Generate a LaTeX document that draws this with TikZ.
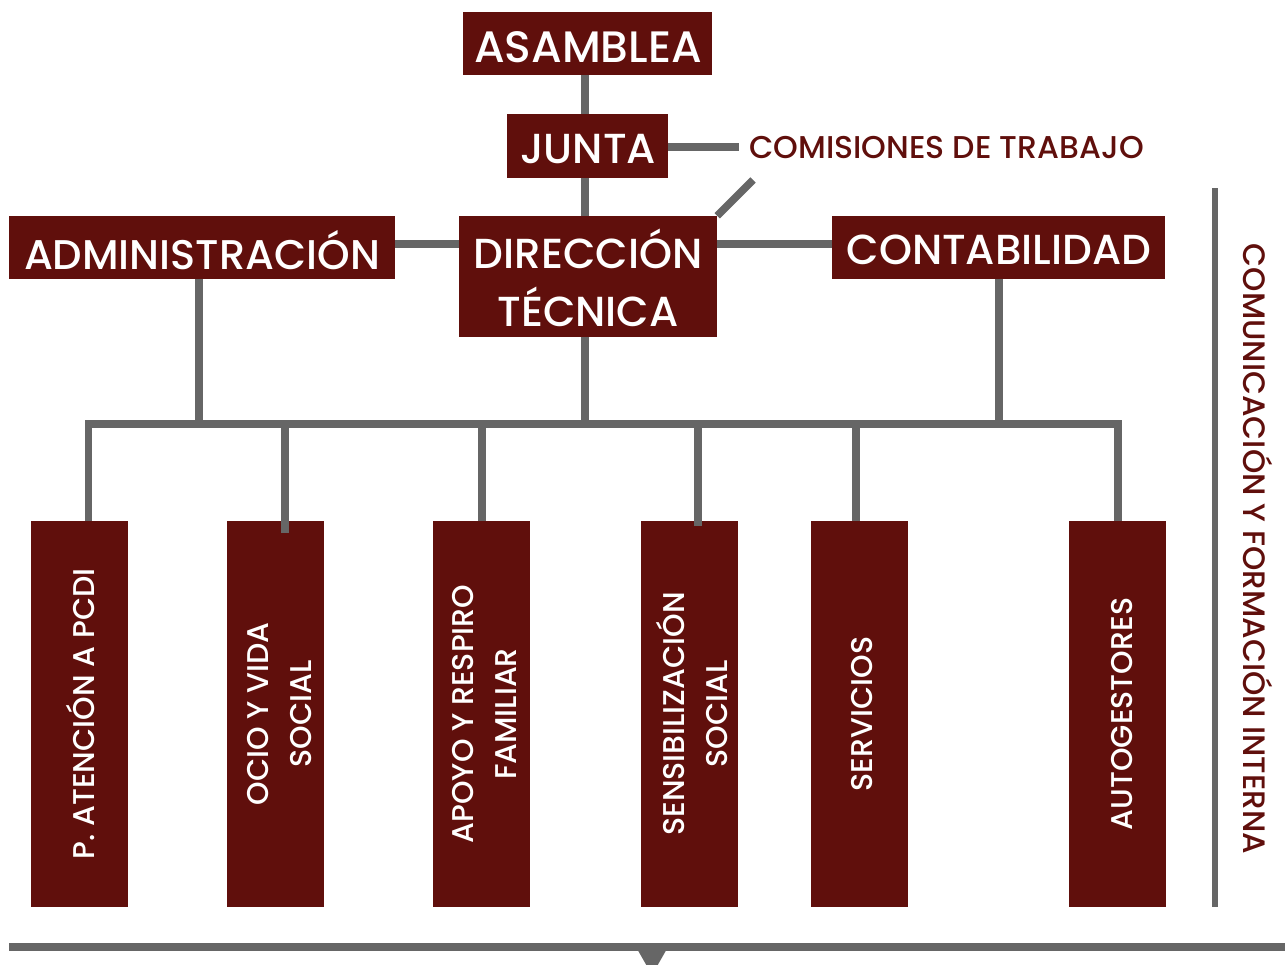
\documentclass[tikz,border=0pt]{standalone}
\usepackage{fontspec}
\setmainfont{Poppins}[UprightFont=* Medium]
\usetikzlibrary{backgrounds,calc}
\definecolor{boxred}{RGB}{96,15,12}
\definecolor{linegray}{RGB}{102,102,102}
\begin{document}
\begin{tikzpicture}[x=1pt,y=-1pt,
  box/.style={fill=boxred,text=white,inner sep=0pt,align=center,font=\fontsize{42}{58}\selectfont},
  vbox/.style={fill=boxred,text=white,inner sep=0pt,minimum width=97pt,minimum height=386pt},
  vtext/.style={text=white,rotate=90,align=center,font=\fontsize{30}{43}\selectfont},
  conn/.style={draw=linegray,line width=7.5pt},
  thinconn/.style={draw=linegray,line width=6pt}]
\useasboundingbox (0,0) rectangle (1285,964);
% top nodes
\node[box,minimum width=249pt,minimum height=63pt] (asam) at (587.5,43.5) {};
\node[box,minimum width=161pt,minimum height=64pt] (junta) at (587.5,146) {};
\node[box,minimum width=258pt,minimum height=121pt] (dir) at (588,276.5) {};
\node[box,minimum width=386pt,minimum height=63pt] (admin) at (202,247.5) {};
\node[box,minimum width=333pt,minimum height=63pt] (contab) at (998.5,247.5) {};
\node[box,fill=none,font=\fontsize{44}{58}\selectfont] (asamT) at (588,47) {ASAMBLEA};
\node[box,fill=none] (juntaT) at (588,149.5) {JUNTA};
\node[box,fill=none] (dirT) at (588,278) {DIRECCIÓN\\TÉCNICA};
\node[box,fill=none,font=\fontsize{41.5}{58}\selectfont] (adminT) at (202,250) {ADMINISTRACIÓN};
\node[box,fill=none] (contabT) at (999,250) {CONTABILIDAD};
\node[anchor=west,text=boxred,inner sep=0pt,font=\fontsize{31.5}{34}\selectfont] (comis) at (749,148) {COMISIONES DE TRABAJO};
\coordinate (comisL) at (739,147);
\coordinate (diagEnd) at (753,180);
% bottom boxes
\node[vbox] (b1) at (79.5,714) {};
\node[vbox] (b2) at (275.5,714) {};
\node[vbox] (b3) at (481.5,714) {};
\node[vbox] (b4) at (689.5,714) {};
\node[vbox] (b5) at (859.5,714) {};
\node[vbox] (b6) at (1117.5,714) {};
\node[vtext] (t1) at (80,714) {P. ATENCIÓN A PCDI};
\node[vtext] (t2) at (280,714) {OCIO Y VIDA\\SOCIAL};
\node[vtext] (t3) at (484,714) {APOYO Y RESPIRO\\FAMILIAR};
\node[vtext] (t4) at (692,714) {SENSIBILIZACIÓN\\SOCIAL};
\node[vtext] (t5) at (862,714) {SERVICIOS};
\node[vtext] (t6) at (1122,714) {AUTOGESTORES};
% bus coordinates
\coordinate (busL) at (88.5,424);
\coordinate (busR) at (1118,424);
\coordinate (bus) at (585,424);
% right side
\coordinate (rtop) at (1215,188);
\coordinate (rbot) at (1215,907);
\node[rotate=-90,text=boxred,inner sep=0pt,font=\fontsize{31}{36}\selectfont] (comu) at (1258,549) {COMUNICACIÓN Y FORMACIÓN INTERNA};
% bottom line
\coordinate (baseL) at (9,947);
\coordinate (baseR) at (1285,947);
\coordinate (tipL) at (636,947);
\coordinate (tipR) at (668,947);
\coordinate (tip) at (652,975);
\begin{scope}[on background layer]
\draw[conn] ($(asam.south)+(-2.5,0)$) -- ($(dir.north)+(-3,0)$);
\draw[conn] (junta.east |- comisL) -- (comisL);
\draw[conn] (dir.north east) -- (diagEnd);
\draw[conn] (admin.east |- 0,244) -- (dir.west |- 0,244);
\draw[conn] (dir.east |- 0,244) -- (contab.west |- 0,244);
\draw[conn] (199,0 |- admin.south) -- (199,424);
\draw[conn] ($(dir.south)+(-3,0)$) -- (bus);
\draw[conn] (999,0 |- contab.south) -- (999,424);
\draw[conn,line join=miter] (b1.north -| busL) -- (busL) -- (busR) -- (b6.north -| busR);
\draw[conn] (b3.north -| 482,0) -- (482,424);
\draw[conn] (b5.north -| 856,0) -- (856,424);
\end{scope}
\draw[conn] (285,533) -- (285,424);
\draw[conn] (698,526) -- (698,420);
\draw[thinconn] (rtop) -- (rbot);
\draw[conn] (baseL) -- (baseR);
\fill[linegray] (tipL) -- (tipR) -- (tip) -- cycle;
\end{tikzpicture}
\end{document}
